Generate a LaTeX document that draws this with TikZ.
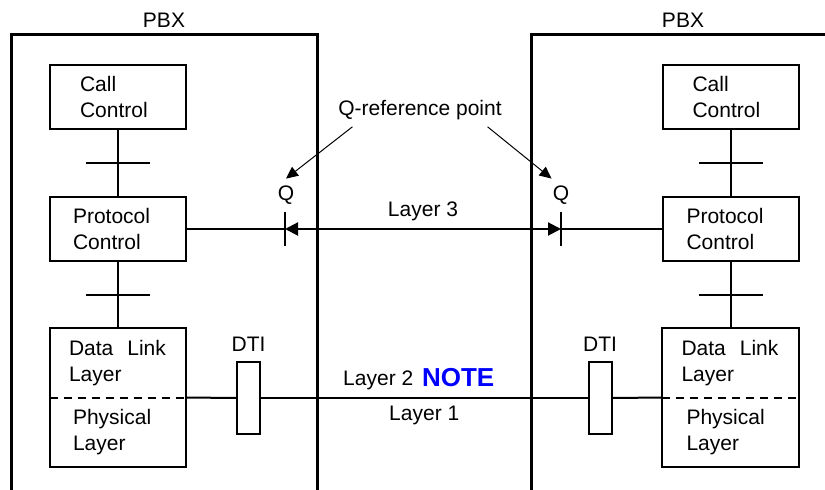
\documentclass[tikz,border=0pt]{standalone}
\usepackage{fontspec}
\setmainfont{Liberation Sans}
\usetikzlibrary{arrows.meta,positioning}
\definecolor{noteblue}{RGB}{0,0,255}

\begin{document}
\begin{tikzpicture}[x=0.5pt,y=-0.5pt,font=\fontsize{10.5}{13}\selectfont,
  frame/.style={line width=1.5pt},
  blk/.style={draw,line width=1pt,minimum width=68pt,minimum height=32pt,
    inner xsep=0pt,text width=#1,align=left},
  halfblk/.style={minimum width=68pt,minimum height=#1,inner xsep=0pt,align=left},
  conn/.style={line width=1pt},
  dtibox/.style={draw,line width=1pt,minimum width=11.5pt,minimum height=36pt,inner sep=0pt},
  qarrow/.style={line width=1pt,{Triangle[length=6.5pt,width=6.5pt]}-{Triangle[length=6.5pt,width=6.5pt]}},
  ptr/.style={line width=0.5pt,-{Triangle[length=6pt,width=5.5pt]}}]

  \useasboundingbox (0,0) rectangle (825,490);

  % PBX frames, open at the bottom
  \draw[frame] (11,490) -- (11,35) -- (317,35) -- (317,490);
  \draw[frame] (531,490) -- (531,35) -- (825,35);
  \node (pbxL) at (164,20) {PBX};
  \node (pbxR) at (683,20) {PBX};

  % left stack
  \node[blk=38pt] (ccL) at (118,97) {Call\\Control};
  \node[blk=45pt] (pcL) at (118,229) {Protocol\\Control};
  \node[halfblk=35pt,text width=49pt] (dlL) at (118,363) {Data\hspace{7pt}Link\\Layer};
  \node[halfblk=34.5pt,text width=45pt] (phL) at (118,432.5) {Physical\\Layer};
  \draw[line width=1pt] (dlL.north west) rectangle (phL.south east);
  \draw[line width=1pt,dash pattern=on 4pt off 3pt] (dlL.south west) -- (dlL.south east);

  % right stack
  \node[blk=38pt] (ccR) at (730.5,97) {Call\\Control};
  \node[blk=44pt] (pcR) at (730.5,229) {Protocol\\Control};
  \node[halfblk=35pt,text width=49pt] (dlR) at (730.5,363) {Data\hspace{7pt}Link\\Layer};
  \node[halfblk=34.5pt,text width=44pt] (phR) at (730.5,432.5) {Physical\\Layer};
  \draw[line width=1pt] (dlR.north west) rectangle (phR.south east);
  \draw[line width=1pt,dash pattern=on 4pt off 3pt] (dlR.south west) -- (dlR.south east);

  % vertical links with their ticks
  \draw[conn] (ccL) -- (pcL) coordinate[midway] (tk1L);
  \draw[conn] (pcL) -- (dlL) coordinate[midway] (tk2L);
  \draw[conn] (ccR) -- (pcR) coordinate[midway] (tk1R);
  \draw[conn] (pcR) -- (dlR) coordinate[midway] (tk2R);
  \foreach \t in {tk1L,tk2L,tk1R,tk2R}
    \draw[conn] ([xshift=-16pt]\t) -- ([xshift=16pt]\t);

  % layer 3 between the Q points
  \coordinate (qL) at (285,229);
  \coordinate (qR) at (561,229);
  \draw[conn] (pcL) -- (qL);
  \draw[conn] (qR) -- (pcR);
  \draw[qarrow] (qL) -- (qR) node[midway,above=0pt] (l3) {Layer 3};
  \draw[conn] ([yshift=8.5pt]qL) -- ([yshift=-8.5pt]qL);
  \draw[conn] ([yshift=8.5pt]qR) -- ([yshift=-8.5pt]qR);
  \node (qlabL) at (286,195) {Q};
  \node (qlabR) at (561,195) {Q};

  \node (qref) at (420,110) {Q-reference point};
  \draw[ptr] (qref.194) -- (qlabL.north);
  \draw[ptr] (qref.-14) -- (qlabR.120);

  % layers 1 and 2 through the DTIs
  \node[dtibox] (dtiL) at (248.5,398) {};
  \node[dtibox] (dtiR) at (600,398) {};
  \node[above=1pt of dtiL] (dtilabL) {DTI};
  \node[above=1pt of dtiR] (dtilabR) {DTI};
  \draw[conn] (phL.north east) -- (dtiL);
  \draw[conn] (dtiR) -- (phR.north west);
  \draw[conn] (dtiL) -- (dtiR)
    node[midway,above=0pt,xshift=-23pt] (l2) {Layer 2}
    node[midway,below=0pt] (l1) {Layer 1};
  \node[right=-3pt of l2,yshift=1.5pt,text=noteblue,font=\fontsize{13}{15}\selectfont\bfseries] (note) {NOTE};

\end{tikzpicture}
\end{document}
